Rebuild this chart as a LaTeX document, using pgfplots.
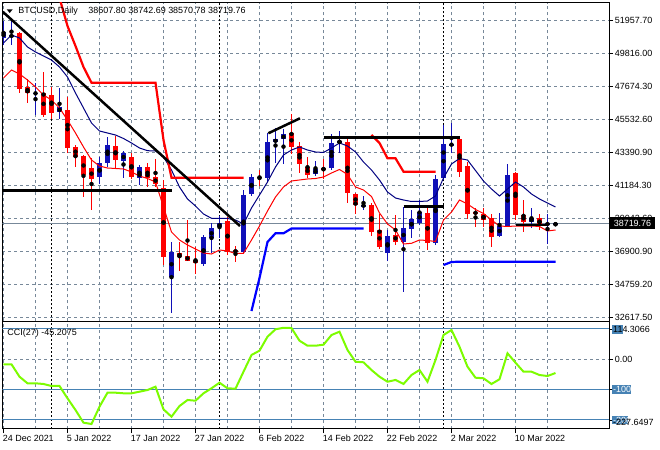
\documentclass[border=0pt]{standalone}
\usepackage{fontspec}
\setmainfont{Liberation Sans}
\usepackage{pgfplots}
\usepackage{pgfplotstable}
\pgfplotsset{compat=1.18}
\definecolor{bullc}{HTML}{1010B8}
\definecolor{bearc}{HTML}{FF0000}
\definecolor{gridc}{HTML}{778899}
\definecolor{lvl}{HTML}{4682B4}
\definecolor{ccic}{HTML}{7CFC00}
\definecolor{navyc}{HTML}{000080}
\definecolor{stepblue}{HTML}{0000FF}

\pgfplotstableread{
i O H L C
0 50766 51912 50330 51196
1 50880 52068 50330 50960
4 47140 47836 45771 47220
7 45947 47510 45491 46273
12 41715 43056 41259 42626
13 42665 44358 42405 43818
15 42796 43447 41649 43277
17 41649 42516 41213 42366
21 35242 37521 32898 36870
25 36069 37957 35939 37807
26 37742 38719 36805 38394
27 38459 39195 37742 38719
30 36870 40888 36766 40562
31 40627 41929 40497 41715
33 41649 44580 41428 43994
34 43994 44905 42665 44189
35 44189 44840 42581 44515
39 41929 42796 41799 42255
41 42301 44534 42190 43929
42 43980 44749 43277 44070
45 39830 40497 39585 39910
48 36805 38283 36284 37892
50 37521 39800 34265 38394
51 38328 39585 37742 38980
52 38758 40236 38608 39475
54 37456 41864 37306 41584
55 41649 45120 41539 43883
56 43800 45270 43277 43880
62 37892 39370 37847 38543
63 38543 42581 38498 41864
66 38823 39696 38394 39045
68 38630 39325 37371 38710
69 38607.80 38742.69 38570.78 38719.76
}\bull

\pgfplotstableread{
i O H L C
2 51079 51196 47204 47464
3 47614 48096 46533 47184
5 47224 48591 45622 45771
6 47074 47614 45530 45921
8 46097 46963 43277 43603
9 43707 43818 42366 43056
10 43102 43167 40451 41864
11 42301 42971 39585 41604
14 43753 44372 42301 42809
16 43017 43277 41584 41715
18 42366 42626 41102 41649
19 41715 42887 41102 41278
20 40998 41539 36004 36544
22 36766 37521 35633 36544
23 36590 38934 36264 36284
24 36329 37195 35418 36153
28 38888 39149 36655 36850
29 36948 37241 36219 36850
32 41750 42190 41148 41660
36 44580 45837 43232 43668
37 43772 44033 41975 42561
38 42405 43056 41688 41864
40 42300 42887 41584 42210
43 43994 44254 40022 40673
44 40627 40673 39325 39911
46 39911 40022 37892 38172
47 38283 39325 37026 37195
49 37957 39260 37306 37521
53 39370 39800 36980 37417
57 44189 44254 41754 42079
58 42450 42730 38980 39325
59 39475 39696 38498 39325
60 39325 39696 38498 38934
61 39045 39325 37156 37807
64 42014 42079 38934 39260
65 39260 40236 38172 38823
67 39045 39325 38283 38608
}\bear

\pgfplotstableread{
i nv rd
0 50460 48181
1 50981 48702
2 50786 48441
3 50200 48051
4 49874 47595
5 49613 47074
6 49353 46748
7 48897 46227
8 48246 45446
9 47204 44599
10 46227 43688
11 45251 42841
12 44730 42450
13 44599 42320
14 44469 42288
15 44241 42255
16 43948 42060
17 43623 41799
18 43447 41636
19 43427 41409
20 43037 39781
21 42190 38153
22 41083 37632
23 40302 37306
24 39846 37046
25 39325 36785
26 39045 36720
27 39045 36981
28 39032 36915
29 38934 36753
30 38674 36766
31 39716 37632
32 40562 38543
33 41409 39520
34 42385 40432
35 43167 41083
36 43492 41474
37 43688 41539
38 43492 41604
39 43362 41636
40 43330 41734
41 43623 41995
42 43948 42223
43 43753 41897
44 43362 41083
45 42711 40888
46 42190 40464
47 41539 39390
48 40757 38674
49 40367 38283
50 40236 37371
51 40139 37417
52 40139 37632
53 40171 37599
54 40497 37534
55 41669 38934
56 42581 39455
57 42939 40236
58 42841 39976
59 42157 39618
60 41474 39357
61 40953 38934
62 40497 38543
63 40953 38511
64 41409 38543
65 41083 38543
66 40627 38543
67 40302 38511
68 40041 38218
69 39781 38283
}\mas

\pgfplotstableread{
i v
6 55214
7 53390
8 51567
9 50265
10 48897
11 47875
19 47875
20 44144
21 41689
30 41689
}\stepA

\pgfplotstableread{
i v
46 44469
47 43948
48 42952
49 42952
50 42079
54 42079
}\stepB

\pgfplotstableread{
i v
31 33008
32 35157
33 37502
34 38068
35 38068
36 38381
45 38381
}\stepC

\pgfplotstableread{
i v
55 36004
56 36199
57 36219
69 36219
}\stepD

\pgfplotstableread{
i cci
0 -16.5
1 -16.5
2 -57.4
3 -79.1
4 -79.1
5 -81.4
6 -88
7 -88
8 -128.6
9 -167.2
10 -209
11 -213.3
12 -156.3
13 -110.1
14 -110.1
15 -112.1
16 -112.1
17 -106.8
18 -101.2
19 -90.3
20 -164.9
21 -189.3
22 -154
23 -134.2
24 -136.5
25 -112.1
26 -95.6
27 -77.2
28 -95.6
29 -96.9
30 -40.9
31 14.2
32 28.4
33 74.5
34 98.9
35 104
36 103
37 61.3
38 44.8
39 44.8
40 48.1
41 80.1
42 91
43 30.7
44 -7.9
45 -9.9
46 -35.3
47 -57.4
48 -73.9
49 -68.2
50 -81.4
51 -51.8
52 -35.3
53 -73.9
54 -2.3
55 80.1
56 96.6
57 41.5
58 -24.4
59 -60.7
60 -62.6
61 -81.4
62 -65.9
63 19.8
64 -11.2
65 -40.9
66 -40.9
67 -51.8
68 -55.1
69 -45.2075
}\ccitab

\pgfplotsset{
  mt4/.style={
    scale only axis, width=606.9bp,
    xmin=-0.15, xmax=75.7125,
    axis line style={black, line width=1bp},
    xtick={0,8,...,64}, minor xtick={4,12,...,76},
    xmajorgrids, xminorgrids,
    tick align=outside,
    major tick length=4bp, minor tick length=0bp,
    every tick/.style={black, line width=0.8bp},
    grid style={gridc, line width=0.8bp, dash pattern=on 3bp off 3bp},
    ytick pos=right, yticklabel pos=right,
    tick label style={font=\fontsize{9}{10}\selectfont},
    yticklabel style={anchor=west, inner sep=0pt, xshift=1.5bp},
    scaled y ticks=false,
  },
  wick/.style={only marks, mark=none, forget plot,
    error bars/.cd, y dir=both, y explicit, error mark=none,
    error bar style={line width=1bp, #1}},
  body/.style={only marks, mark=none, forget plot,
    error bars/.cd, y dir=both, y explicit, error mark=none,
    error bar style={line width=5bp, #1}},
  sep/.style={black, line width=0.8bp, dash pattern=on 2bp off 2bp, forget plot},
  tl/.style={black, line width=2.5bp, forget plot},
}

\begin{document}
\begin{tikzpicture}
\useasboundingbox (0bp,0bp) rectangle (660bp,450bp);

\begin{axis}[mt4,
  at={(2.3bp,128.5bp)}, anchor=south west, height=318.8bp,
  ymin=32324.7, ymax=53084.2,
  xticklabels={}, xtick style={draw=none},
  ytick={51957.7,49808.8,47659.9,45511.0,43362.1,41213.2,39064.3,36915.4,34766.5,32617.6},
  yticklabels={51957.70,49816.00,47674.30,45532.60,43390.90,41184.30,39042.60,36900.90,34759.20,32617.50},
  ymajorgrids,
]
% period separators
\addplot[sep] coordinates {(6,32324.7) (6,53084.2)};
\addplot[sep] coordinates {(27,32324.7) (27,53084.2)};
\addplot[sep] coordinates {(55,32324.7) (55,53084.2)};
% current price line
\addplot[gridc, line width=0.8bp, forget plot] coordinates {(-0.15,38719.76) (75.7,38719.76)};
% candles
\addplot[wick=bearc] table[x=i, y expr={(\thisrow{H}+\thisrow{L})/2}, y error expr={(\thisrow{H}-\thisrow{L})/2}] {\bear};
\addplot[wick=bullc] table[x=i, y expr={(\thisrow{H}+\thisrow{L})/2}, y error expr={(\thisrow{H}-\thisrow{L})/2}] {\bull};
\addplot[body=bearc] table[x=i, y expr={(\thisrow{O}+\thisrow{C})/2}, y error expr={abs(\thisrow{C}-\thisrow{O})/2}] {\bear};
\addplot[body=bullc] table[x=i, y expr={(\thisrow{O}+\thisrow{C})/2}, y error expr={abs(\thisrow{C}-\thisrow{O})/2}] {\bull};
% moving averages
\addplot[navyc, line width=1bp, forget plot] table[x=i, y=nv] {\mas};
\addplot[bearc, line width=1bp, forget plot] table[x=i, y=rd] {\mas};
% trailing stops
\addplot[bearc, line width=2.2bp, forget plot] table[x=i, y=v] {\stepA};
\addplot[bearc, line width=2.2bp, forget plot] table[x=i, y=v] {\stepB};
\addplot[stepblue, line width=2.2bp, forget plot] table[x=i, y=v] {\stepC};
\addplot[stepblue, line width=2.2bp, forget plot] table[x=i, y=v] {\stepD};
% trend lines
\addplot[tl] coordinates {(-0.1,52498) (29.56,38543)};
\addplot[tl] coordinates {(-0.1,40842) (21.0,40842)};
\addplot[tl] coordinates {(33.1,44580) (37.06,45557)};
\addplot[tl] coordinates {(40.0,44306) (57.0,44306)};
\addplot[tl] coordinates {(50.0,39800) (55.0,39800)};
\addplot[tl] coordinates {(64.06,38608) (67.9,38608)};
\end{axis}

\begin{axis}[mt4,
  at={(2.3bp,21bp)}, anchor=south west, height=107bp,
  ymin=-229.8, ymax=122.98,
  xtick pos=bottom,
  xticklabels={24 Dec 2021,5 Jan 2022,17 Jan 2022,27 Jan 2022,6 Feb 2022,14 Feb 2022,22 Feb 2022,2 Mar 2022,10 Mar 2022},
  xticklabel style={anchor=north west, inner sep=0pt, yshift=-2bp, xshift=-0.8bp},
  ytick={0}, yticklabels={0.00}, ymajorgrids,
  extra y ticks={100,-100,-200}, extra y tick labels={},
  extra y tick style={grid=none},
]
\addplot[sep] coordinates {(6,-229.8) (6,122.98)};
\addplot[sep] coordinates {(27,-229.8) (27,122.98)};
\addplot[sep] coordinates {(55,-229.8) (55,122.98)};
\addplot[lvl, line width=1bp, forget plot] coordinates {(-0.15,100) (75.7,100)};
\addplot[lvl, line width=1bp, forget plot] coordinates {(-0.15,-100) (75.7,-100)};
\addplot[lvl, line width=1bp, forget plot] coordinates {(-0.15,-200) (75.7,-200)};
\addplot[ccic, line width=2bp, forget plot] table[x=i, y=cci] {\ccitab};
\end{axis}

\begin{scope}[x=1bp, y=1bp]
% header
\fill[black] (6.7,440.7) -- (12.7,440.7) -- (9.7,437.0) -- cycle;
\node[anchor=base west, inner sep=0pt, font=\fontsize{9}{10}\selectfont] at (18.3,436.2) {BTCUSD,Daily};
\node[anchor=base west, inner sep=0pt, font=\fontsize{9}{10}\selectfont] at (88.3,436.2) {38607.80 38742.69 38570.78 38719.76};
% current price box
\fill[black] (610,221) rectangle (655,232.5);
\node[white, inner sep=0pt, font=\fontsize{9}{10}\selectfont] at (632.5,226.7) {38719.76};
% CCI texts
\node[anchor=base west, inner sep=0pt, font=\fontsize{9}{10}\selectfont] at (7.3,114.5) {CCI(27) -45.2075};
\fill[lvl] (611.7,116.4) rectangle (623.3,125.3);
\node[anchor=west, inner sep=0pt, font=\fontsize{9}{10}\selectfont] at (613,120.7) {114.3066};
\fill[lvl] (611.7,56.2) rectangle (631,65.2);
\node[white, anchor=west, inner sep=0pt, font=\fontsize{9}{10}\selectfont] at (613,60.7) {-100};
\fill[lvl] (611.7,25.7) rectangle (628.3,34.3);
\node[white, anchor=west, inner sep=0pt, font=\fontsize{9}{10}\selectfont] at (613,30) {-200};
\node[anchor=west, inner sep=0pt, font=\fontsize{9}{10}\selectfont] at (613,27.7) {-227.6497};
\end{scope}
\end{tikzpicture}
\end{document}
